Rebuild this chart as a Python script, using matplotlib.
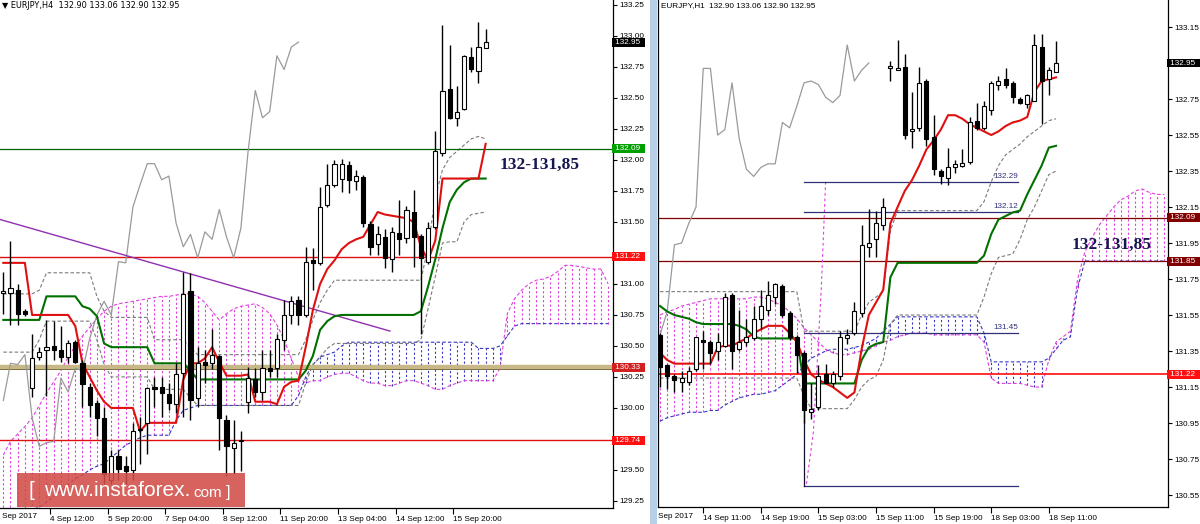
import numpy as np
import matplotlib
matplotlib.use("Agg")
import matplotlib.pyplot as plt
from matplotlib.patches import Rectangle

plt.rcParams['lines.scale_dashes'] = False
plt.rcParams['font.family'] = ['Liberation Sans', 'DejaVu Sans']

# ===================== LEFT PANEL : EURJPY,H4 =====================
l_open = [130.93, 130.93, 130.95, 130.78, 130.16, 130.41, 130.47, 130.50, 130.47, 130.41,
          130.53, 130.36, 130.17, 130.04, 129.92, 129.42, 129.61, 129.53, 129.50, 129.82,
          129.88, 130.17, 130.17, 130.11, 130.03, 130.28, 130.94, 130.08, 130.37, 130.36,
          130.42, 129.90, 129.68, 129.73, 130.05, 130.23, 130.13, 130.32, 130.32, 130.55,
          130.75, 130.87, 130.75, 131.19, 131.17, 131.64, 131.80, 131.85, 131.96, 131.83,
          131.86, 131.48, 131.32, 131.38, 131.20, 131.41, 131.37, 131.58, 131.39, 131.18,
          131.46, 132.06, 132.57, 132.34, 132.41, 132.83, 132.72, 132.90]
l_high = [131.10, 131.35, 131.00, 130.80, 130.60, 130.49, 130.71, 130.70, 130.66, 130.55,
          130.55, 130.39, 130.20, 130.06, 130.01, 129.66, 129.66, 129.61, 129.88, 129.93,
          130.17, 130.25, 130.25, 130.20, 130.36, 131.10, 131.09, 130.49, 130.47, 130.64,
          130.43, 129.94, 129.90, 129.81, 130.33, 130.32, 130.47, 130.47, 130.60, 130.87,
          130.90, 130.90, 131.30, 131.29, 131.78, 131.97, 132.00, 132.01, 131.99, 131.92,
          131.88, 131.51, 131.47, 131.44, 131.46, 131.68, 131.63, 131.76, 131.40, 131.50,
          132.23, 133.09, 132.93, 132.60, 132.85, 132.91, 133.11, 133.06]
l_low = [130.76, 130.67, 130.67, 130.74, 130.09, 130.39, 130.10, 130.39, 130.37, 130.36,
         130.36, 130.01, 129.93, 129.77, 129.39, 129.39, 129.42, 129.39, 129.42, 129.55,
         129.63, 130.01, 129.93, 129.98, 129.96, 129.93, 129.90, 130.01, 130.20, 130.31,
         129.66, 129.45, 129.47, 129.49, 129.96, 130.09, 130.06, 130.25, 130.25, 130.47,
         130.68, 130.67, 130.73, 130.95, 131.15, 131.62, 131.78, 131.74, 131.73, 131.76,
         131.46, 131.23, 131.23, 131.13, 131.10, 131.23, 131.33, 131.14, 130.60, 131.16,
         131.44, 132.03, 132.33, 132.27, 132.40, 132.71, 132.62, 132.90]
l_close = [130.94, 130.97, 130.76, 130.76, 130.40, 130.45, 130.49, 130.47, 130.41, 130.52,
           130.37, 130.19, 130.02, 129.92, 129.47, 129.61, 129.51, 129.49, 129.81, 129.83,
           130.16, 130.15, 130.12, 130.04, 130.27, 130.92, 130.06, 130.36, 130.35, 130.43,
           129.92, 129.69, 129.72, 129.73, 130.24, 130.13, 130.32, 130.30, 130.56, 130.75,
           130.86, 130.75, 131.18, 131.17, 131.62, 131.80, 131.97, 131.97, 131.84, 131.87,
           131.49, 131.30, 131.40, 131.21, 131.42, 131.36, 131.60, 131.38, 131.21, 131.45,
           132.07, 132.56, 132.34, 132.39, 132.84, 132.73, 132.91, 132.95]
l_tenkan = [131.17, 131.17, 131.17, 131.17, 130.75, 130.75, 130.75, 130.75, 130.75, 130.75,
            130.66, 130.36, 130.25, 130.14, 130.05, 130.00, 130.00, 130.00, 130.00, 129.81,
            129.88, 129.88, 129.88, 129.88, 129.88, 130.23, 130.36, 130.36, 130.40, 130.49,
            130.37, 130.26, 130.26, 130.26, 130.27, 130.05, 130.05, 130.05, 130.03, 130.17,
            130.21, 130.22, 130.49, 130.79, 131.00, 131.12, 131.19, 131.28, 131.33, 131.36,
            131.38, 131.48, 131.58, 131.56, 131.55, 131.54, 131.53, 131.50, 131.30, 131.19,
            131.35, 131.85, 131.85, 131.85, 131.85, 131.85, 131.85, 132.13]
l_kijun = [130.71, 130.71, 130.71, 130.71, 130.71, 130.71, 130.90, 130.90, 130.90, 130.90,
           130.90, 130.82, 130.80, 130.74, 130.52, 130.49, 130.49, 130.49, 130.49, 130.49,
           130.49, 130.36, 130.36, 130.36, 130.36, 130.36, 130.30, 130.23, 130.23, 130.23,
           130.23, 130.23, 130.23, 130.23, 130.23, 130.23, 130.23, 130.23, 130.23, 130.23,
           130.23, 130.23, 130.30, 130.42, 130.63, 130.70, 130.74, 130.75, 130.75, 130.75,
           130.75, 130.75, 130.75, 130.75, 130.75, 130.75, 130.75, 130.75, 130.78, 130.98,
           131.20, 131.45, 131.66, 131.76, 131.82, 131.85, 131.85, 131.85]
l_span_a = [129.62, 129.73, 129.79, 129.85, 129.92, 130.02, 130.12, 130.21, 130.30, 130.41,
            130.50, 130.58, 130.65, 130.72, 130.78, 130.82, 130.84, 130.85, 130.86, 130.87,
            130.88, 130.89, 130.90, 130.90, 130.91, 130.92, 130.92, 130.90, 130.85, 130.78,
            130.71, 130.76, 130.80, 130.82, 130.83, 130.84, 130.81, 130.76, 130.67, 130.55,
            130.40, 130.25, 130.20, 130.22, 130.22, 130.25, 130.27, 130.28, 130.28, 130.25,
            130.22, 130.20, 130.20, 130.18, 130.18, 130.20, 130.22, 130.22, 130.20, 130.18,
            130.15, 130.15, 130.18, 130.20, 130.22, 130.22, 130.22, 130.22, 130.22, 130.32,
            130.76, 130.88, 130.95, 131.00, 131.03, 131.04, 131.06, 131.10, 131.15, 131.15,
            131.14, 131.13, 131.12, 131.12, 131.00]
l_span_b = [129.00, 129.05, 129.10, 129.15, 129.18, 129.20, 129.24, 129.29, 129.33, 129.38,
            129.43, 129.46, 129.50, 129.53, 129.55, 129.60, 129.65, 129.70, 129.73, 129.76,
            129.78, 129.78, 129.78, 129.78, 129.90, 129.98, 130.00, 130.02, 130.02, 130.02,
            130.02, 130.02, 130.02, 130.02, 130.02, 130.02, 130.02, 130.02, 130.02, 130.02,
            130.02, 130.10, 130.25, 130.35, 130.41, 130.43, 130.45, 130.50, 130.53, 130.53,
            130.53, 130.53, 130.53, 130.53, 130.53, 130.53, 130.53, 130.53, 130.53, 130.53,
            130.53, 130.53, 130.53, 130.53, 130.53, 130.53, 130.48, 130.48, 130.48, 130.50,
            130.58, 130.66, 130.68, 130.68, 130.68, 130.68, 130.68, 130.68, 130.68, 130.68,
            130.68, 130.68, 130.68, 130.68, 130.68]
l_env_up = [130.92, 130.92, 130.92, 130.92, 130.92, 130.95, 131.09, 131.09, 131.09, 131.09,
            131.09, 131.09, 131.09, 130.90, 130.78, 130.73, 130.73, 130.73, 130.73, 130.73,
            130.73, 130.55, 130.55, 130.55, 130.55, 130.55, 130.48, 130.43, 130.43, 130.43,
            130.43, 130.43, 130.43, 130.43, 130.43, 130.43, 130.43, 130.43, 130.43, 130.43,
            130.43, 130.43, 130.55, 130.71, 130.85, 130.95, 131.03, 131.03, 131.03, 131.03,
            131.03, 131.03, 131.03, 131.03, 131.03, 131.03, 131.03, 131.03, 131.03, 131.30,
            131.70, 131.92, 132.02, 132.07, 132.12, 132.17, 132.19, 132.17]
l_env_dn = [130.45, 130.45, 130.45, 130.45, 130.45, 130.55, 130.70, 130.70, 130.70, 130.70,
            130.70, 130.70, 130.70, 130.55, 130.35, 130.25, 130.25, 130.25, 130.25, 130.25,
            130.25, 130.15, 130.15, 130.15, 130.15, 130.15, 130.08, 130.02, 130.02, 130.02,
            130.02, 130.02, 130.02, 130.02, 130.02, 130.02, 130.02, 130.02, 130.02, 130.02,
            130.02, 130.02, 130.20, 130.35, 130.41, 130.48, 130.52, 130.52, 130.52, 130.52,
            130.52, 130.52, 130.52, 130.52, 130.52, 130.52, 130.52, 130.52, 130.55, 130.80,
            131.06, 131.33, 131.34, 131.34, 131.50, 131.56, 131.57, 131.58]
l_xtick_pos = [6.5, 14.5, 22.5, 30.5, 38.5, 46.5, 54.5, 62.5]
l_xtick_lab = ["4 Sep 12:00", "5 Sep 20:00", "7 Sep 04:00", "8 Sep 12:00",
               "11 Sep 20:00", "13 Sep 04:00", "14 Sep 12:00", "15 Sep 20:00"]
l_yticks = [133.25, 133.00, 132.75, 132.50, 132.25, 132.00, 131.75, 131.50, 131.25,
            131.00, 130.75, 130.50, 130.25, 130.00, 129.75, 129.50, 129.25]
l_hidden_ticks = [131.25, 129.75]          # covered by the price boxes
l_levels = [132.09, 131.22, 130.33, 129.74]
l_trend = ([-0.46, 53.7], [131.52, 130.62])

# ===================== RIGHT PANEL : EURJPY,H1 =====================
r_open = [131.44, 131.27, 131.21, 131.18, 131.18, 131.25, 131.41, 131.40, 131.35, 131.38,
          131.66, 131.36, 131.40, 131.42, 131.53, 131.58, 131.65, 131.71, 131.56, 131.43,
          131.34, 131.01, 131.04, 131.22, 131.17, 131.21, 131.42, 131.45, 131.56, 131.93,
          131.97, 132.05, 132.92, 132.91, 132.93, 132.57, 132.59, 132.85, 132.54, 132.35,
          132.31, 132.37, 132.38, 132.40, 132.63, 132.59, 132.69, 132.83, 132.86, 132.84,
          132.75, 132.72, 132.74, 133.04, 132.86, 132.90]
r_high = [131.45, 131.28, 131.22, 131.24, 131.26, 131.43, 131.46, 131.41, 131.45, 131.67,
          131.67, 131.58, 131.53, 131.60, 131.69, 131.74, 131.73, 131.72, 131.57, 131.44,
          131.35, 131.17, 131.27, 131.28, 131.24, 131.46, 131.47, 131.62, 132.05, 132.14,
          132.13, 132.20, 132.96, 133.08, 133.00, 132.79, 132.93, 132.86, 132.66, 132.36,
          132.48, 132.41, 132.47, 132.65, 132.73, 132.74, 132.85, 132.88, 132.92, 132.85,
          132.76, 132.78, 133.11, 133.11, 132.93, 133.07]
r_low = [131.15, 131.14, 131.12, 131.12, 131.16, 131.24, 131.25, 131.28, 131.30, 131.37,
         131.25, 131.35, 131.38, 131.41, 131.47, 131.55, 131.61, 131.54, 131.41, 131.23,
         130.95, 130.97, 131.02, 131.17, 131.15, 131.19, 131.39, 131.44, 131.54, 131.87,
         131.87, 132.02, 132.85, 132.91, 132.53, 132.48, 132.57, 132.49, 132.33, 132.28,
         132.27, 132.34, 132.37, 132.39, 132.58, 132.58, 132.66, 132.80, 132.81, 132.73,
         132.72, 132.70, 132.74, 132.61, 132.77, 132.90]
r_close = [131.26, 131.21, 131.19, 131.20, 131.24, 131.43, 131.40, 131.34, 131.40, 131.65,
           131.35, 131.40, 131.43, 131.53, 131.60, 131.66, 131.72, 131.55, 131.43, 131.33,
           131.02, 131.03, 131.21, 131.17, 131.22, 131.43, 131.44, 131.57, 131.94, 131.95,
           132.06, 132.15, 132.92, 132.92, 132.55, 132.58, 132.84, 132.53, 132.36, 132.32,
           132.37, 132.39, 132.39, 132.62, 132.59, 132.71, 132.84, 132.85, 132.83, 132.76,
           132.73, 132.77, 133.05, 132.85, 132.91, 132.95]
r_tenkan = [131.34, 131.30, 131.28, 131.28, 131.28, 131.28, 131.28, 131.28, 131.37, 131.38,
            131.38, 131.40, 131.42, 131.45, 131.47, 131.49, 131.49, 131.49, 131.45, 131.40,
            131.30, 131.22, 131.19, 131.17, 131.15, 131.12, 131.09, 131.12, 131.36, 131.55,
            131.62, 131.69, 132.06, 132.15, 132.24, 132.30, 132.38, 132.47, 132.52, 132.58,
            132.66, 132.66, 132.64, 132.61, 132.59, 132.57, 132.55, 132.57, 132.60, 132.62,
            132.63, 132.65, 132.79, 132.85, 132.86, 132.87]
r_kijun = [131.60, 131.57, 131.55, 131.54, 131.53, 131.51, 131.50, 131.50, 131.50, 131.50,
           131.50, 131.49, 131.47, 131.43, 131.42, 131.42, 131.42, 131.42, 131.42, 131.42,
           131.17, 131.17, 131.17, 131.17, 131.17, 131.17, 131.17, 131.17, 131.30, 131.37,
           131.39, 131.40, 131.76, 131.84, 131.84, 131.84, 131.84, 131.84, 131.84, 131.84,
           131.84, 131.84, 131.84, 131.84, 131.84, 131.88, 132.00, 132.08, 132.10, 132.12,
           132.13, 132.22, 132.30, 132.38, 132.48, 132.49]
r_span_a = [131.55, 131.57, 131.58, 131.60, 131.61, 131.62, 131.63, 131.64, 131.64, 131.64,
            131.64, 131.64, 131.64, 131.65, 131.65, 131.64, 131.62, 131.60, 131.57, 131.53,
            131.48, 131.44, 131.40, 131.36, 131.34, 131.33, 131.33, 131.34, 131.35, 131.36,
            131.38, 131.40, 131.41, 131.43, 131.44, 131.45, 131.45, 131.45, 131.44, 131.44,
            131.44, 131.44, 131.44, 131.44, 131.44, 131.40, 131.20, 131.17, 131.17, 131.17,
            131.17, 131.16, 131.15, 131.15, 131.30, 131.40, 131.43, 131.46, 131.75, 131.90,
            131.98, 132.05, 132.10, 132.15, 132.19, 132.21, 132.24, 132.25, 132.23, 132.22,
            132.22]
r_span_b = [130.96, 130.98, 130.99, 131.00, 131.01, 131.01, 131.01, 131.02, 131.02, 131.05,
            131.07, 131.09, 131.10, 131.11, 131.11, 131.12, 131.13, 131.16, 131.19, 131.22,
            131.27, 131.31, 131.33, 131.35, 131.36, 131.36, 131.36, 131.37, 131.38, 131.40,
            131.42, 131.46, 131.50, 131.54, 131.54, 131.54, 131.54, 131.54, 131.54, 131.54,
            131.54, 131.54, 131.54, 131.54, 131.54, 131.45, 131.29, 131.29, 131.29, 131.29,
            131.29, 131.29, 131.29, 131.29, 131.31, 131.36, 131.41, 131.43, 131.70, 131.85,
            131.85, 131.85, 131.85, 131.85, 131.85, 131.85, 131.85, 131.85, 131.85, 131.85,
            131.85]
r_env_up = [131.68] * 20 + [131.46] * 8 + [131.55, 131.62, 131.65, 131.68, 132.02] + [132.13] * 12 + \
           [132.18, 132.29, 132.38, 132.44, 132.47, 132.50, 132.54, 132.57, 132.60, 132.63, 132.64]
r_env_dn = [131.20] * 20 + [131.10] + [131.03] * 6 + [131.08, 131.15, 131.19, 131.21, 131.30, 131.50] + \
           [131.55] * 12 + [131.65, 131.78, 131.87, 131.88, 131.89, 131.97, 132.08, 132.15, 132.24, 132.33, 132.35]
r_xtick_pos = [6, 14, 22, 30, 38, 46, 54]
r_xtick_lab = ["14 Sep 11:00", "14 Sep 19:00", "15 Sep 03:00", "15 Sep 11:00",
               "15 Sep 19:00", "18 Sep 03:00", "18 Sep 11:00"]
r_yticks = [133.15, 132.95, 132.75, 132.55, 132.35, 132.15, 131.95, 131.75, 131.55,
            131.35, 131.15, 130.95, 130.75, 130.55]
r_hidden_ticks = [132.95]
r_levels = [132.09, 131.85, 131.22]
r_marks = [132.29, 132.12, 131.45]          # labelled horizontal lines
r_mark_span = (20.0, 49.7)
r_box_low = 130.60
r_pink_line = ([23.0, 22.4, 21.3, 20.3], [132.29, 131.70, 130.90, 130.60])

# ===================== styling =====================
W, H = 1200, 524
PINK = '#e040e0'
BLUE = '#3838c0'
GREY = '#9a9a9a'
DGREY = '#7a7a7a'
RED = '#e01010'
GREEN = '#007000'
NAVY = '#303078'
AX_FONT = 5.9

fig = plt.figure(figsize=(W / 100, H / 100), dpi=100)
fig.patch.set_facecolor('white')


def fr(x0, y0, x1, y1):
    return [x0 / W, 1 - y1 / H, (x1 - x0) / W, (y1 - y0) / H]


def draw_panel(ax, o, h, l, c, tenkan, kijun, sa, sb, env_up, env_dn):
    o, h, l, c = map(np.asarray, (o, h, l, c))
    n = len(o)
    idx = np.arange(n)
    sa, sb = np.asarray(sa), np.asarray(sb)
    ci = np.arange(len(sa))
    pk = sa >= sb
    ax.vlines(ci[pk], sb[pk], sa[pk], colors=PINK, linestyles=[(0, (1.6, 1.6))], lw=0.8, zorder=1)
    ax.vlines(ci[~pk], sa[~pk], sb[~pk], colors=BLUE, linestyles=[(0, (1.6, 1.6))], lw=0.8, zorder=1)
    ax.plot(ci, sa, color=PINK, ls=(0, (2.5, 1.6)), lw=0.8, zorder=2)
    ax.plot(ci, sb, color=BLUE, ls=(0, (2.5, 1.6)), lw=0.8, zorder=2)
    ax.plot(idx, env_up, color=DGREY, ls=(0, (2.5, 1.6)), lw=0.8, zorder=2)
    ax.plot(idx, env_dn, color=DGREY, ls=(0, (2.5, 1.6)), lw=0.8, zorder=2)
    # lagging line = closes shifted 26 bars back
    ax.plot(idx[:n - 26], c[26:], color=GREY, lw=0.9, zorder=3)
    ax.plot(idx, kijun, color=GREEN, lw=1.5, zorder=4)
    ax.plot(idx, tenkan, color=RED, lw=1.5, zorder=4)
    ax.vlines(idx, l, h, color='black', lw=1.0, zorder=5)
    up = c >= o
    bot = np.minimum(o, c)
    hgt = np.maximum(np.abs(c - o), 0.012)
    ax.bar(idx[up], hgt[up], bottom=bot[up], width=0.56, color='white',
           edgecolor='black', lw=0.8, zorder=6)
    ax.bar(idx[~up], hgt[~up], bottom=bot[~up], width=0.56, color='black',
           edgecolor='black', lw=0.8, zorder=6)


def style_axes(ax, yticks, hidden, xpos, xlab):
    for s in ['top', 'left']:
        ax.spines[s].set_visible(False)
    ax.spines['right'].set_linewidth(0.9)
    ax.spines['bottom'].set_linewidth(0.9)
    ax.yaxis.tick_right()
    ax.set_yticks(yticks)
    ax.set_yticklabels(["" if v in hidden else f"{v:.2f}" for v in yticks])
    ax.tick_params(axis='y', length=3, width=0.8, pad=2, labelsize=AX_FONT, colors='black')
    ax.set_xticks(xpos)
    ax.set_xticklabels(xlab)
    for t in ax.get_xticklabels():
        t.set_ha('left')
    ax.tick_params(axis='x', length=4, width=0.8, pad=1.5, labelsize=AX_FONT)


def price_box(ax, price, text, fc, tc='white'):
    ax.text(1.0, price, " " + text + "  ", transform=ax.get_yaxis_transform(), ha='left',
            va='center', fontsize=AX_FONT, color=tc, clip_on=False, zorder=30,
            bbox=dict(boxstyle='square,pad=0.12', fc=fc, ec='none'))


# ---------------- left panel ----------------
axL = fig.add_axes(fr(0, 0, 612.7, 508))
draw_panel(axL, l_open, l_high, l_low, l_close, l_tenkan, l_kijun,
           l_span_a, l_span_b, l_env_up, l_env_dn)
axL.axhline(l_levels[0], color='#006400', lw=0.9, zorder=2)
axL.axhline(l_levels[1], color=RED, lw=1.0, zorder=2)
axL.axhline(l_levels[2], color='#c8b888', lw=3.2, zorder=2)
axL.axhline(l_levels[2] - 0.015, color='#7a7040', lw=0.7, zorder=2)
axL.axhline(l_levels[3], color=RED, lw=1.0, zorder=2)
axL.plot(l_trend[0], l_trend[1], color='#9030b0', lw=1.0, zorder=3)
axL.set_xlim(-0.458, 84.64)
axL.set_ylim(129.193, 133.29)
style_axes(axL, l_yticks, l_hidden_ticks, l_xtick_pos, l_xtick_lab)
price_box(axL, 132.95, "132.95", 'black')
price_box(axL, l_levels[0], "132.09", '#00a000')
price_box(axL, l_levels[1], "131.22", '#ff1010')
price_box(axL, l_levels[2], "130.33", '#d02020')
price_box(axL, l_levels[3], "129.74", '#ff1010')
axL.text(68.9, 131.96, "132-131,85", fontsize=12.5, fontweight='bold',
         family='Liberation Serif', color='#161650', ha='left', va='center', zorder=25)

# ---------------- right panel ----------------
axR = fig.add_axes(fr(657.5, 0, 1167.7, 507.3))
draw_panel(axR, r_open, r_high, r_low, r_close, r_tenkan, r_kijun,
           r_span_a, r_span_b, r_env_up, r_env_dn)
axR.axhline(r_levels[0], color='#800000', lw=0.9, zorder=2)
axR.axhline(r_levels[1], color='#800000', lw=0.9, zorder=2)
axR.axhline(r_levels[2], color='#ff3030', lw=1.4, zorder=2)
for m in r_marks:
    axR.plot(r_mark_span, [m, m], color=NAVY, lw=0.9, zorder=3)
    axR.text(r_mark_span[1], m + 0.012, f"{m:.2f}", color=NAVY, fontsize=AX_FONT,
             ha='right', va='bottom', zorder=8)
axR.plot(r_mark_span, [r_box_low, r_box_low], color=NAVY, lw=0.9, zorder=3)
axR.plot([r_mark_span[0], r_mark_span[0]], [r_box_low, 131.02], color='#101030', lw=0.9, zorder=3)
axR.plot(r_pink_line[0], r_pink_line[1], color=PINK, ls=(0, (2, 2)), lw=0.8, zorder=2)
axR.set_xlim(-0.35, 70.51)
axR.set_ylim(130.482, 133.30)
style_axes(axR, r_yticks, r_hidden_ticks, r_xtick_pos, r_xtick_lab)
axR.spines['left'].set_visible(True)
axR.spines['left'].set_linewidth(0.9)
price_box(axR, 132.95, "132.95", 'black')
price_box(axR, r_levels[0], "132.09", '#800000')
price_box(axR, r_levels[1], "131.85", '#800000')
price_box(axR, r_levels[2], "131.22", '#ff1010')
axR.text(57.2, 131.94, "132-131,85", fontsize=12.5, fontweight='bold',
         family='Liberation Serif', color='#161650', ha='left', va='center', zorder=25)

# ---------------- decorations in figure pixels ----------------
fig.patches.append(Rectangle((650 / W, 0), 7 / W, 1, transform=fig.transFigure,
                             fc='#b8cfe8', ec='none', zorder=0))
fig.text(2 / W, 1 - 6 / H, "\u25bc EURJPY,H4  132.90 133.06 132.90 132.95", fontsize=AX_FONT,
         ha='left', va='center', family=['DejaVu Sans'], color='black')
fig.text(661 / W, 1 - 6 / H, "EURJPY,H1  132.90 133.06 132.90 132.95", fontsize=AX_FONT,
         ha='left', va='center', color='black')
fig.text(2 / W, 1 - 516 / H, "Sep 2017", fontsize=AX_FONT, ha='left', va='center')
fig.text(658 / W, 1 - 516 / H, "Sep 2017", fontsize=AX_FONT, ha='left', va='center')

# watermark
fig.patches.append(Rectangle((17 / W, 1 - 507 / H), 228 / W, 34 / H, transform=fig.transFigure,
                             fc='#d24d48', ec='none', alpha=0.88, zorder=40))
fig.text(28 / W, 1 - 491 / H, "[", fontsize=15, color='white', ha='left', va='center', zorder=41)
fig.text(44 / W, 1 - 491 / H, "www.instaforex.", fontsize=15, color='white', ha='left',
         va='center', zorder=41)
fig.text(193 / W, 1 - 493 / H, "com", fontsize=11, color='white', ha='left', va='center', zorder=41)
fig.text(226 / W, 1 - 492 / H, "]", fontsize=12, color='white', ha='left', va='center', zorder=41)

fig.savefig("out.png", dpi=100, facecolor='white')
